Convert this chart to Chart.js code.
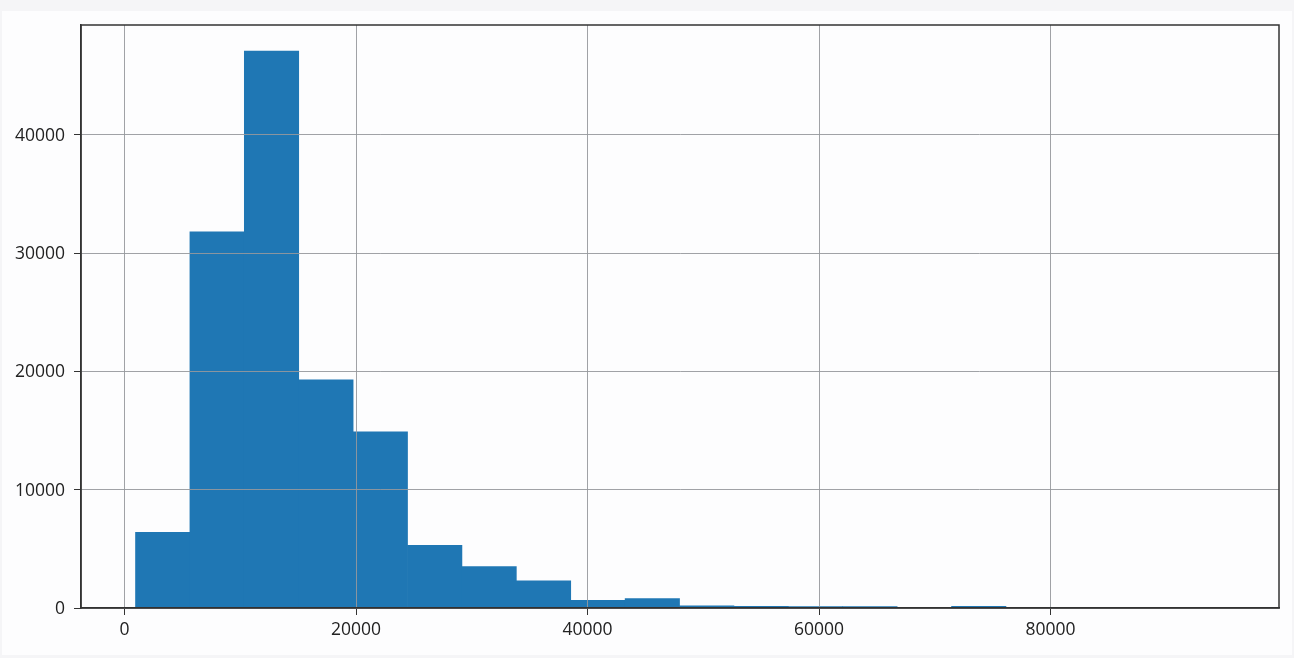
<!DOCTYPE html>
<html>
<head>
<meta charset="utf-8">
<style>
  html, body { margin: 0; padding: 0; width: 1294px; height: 658px; overflow: hidden; background: #f5f5f7; }
  #card { position: absolute; left: 2px; top: 11px; width: 1290px; height: 644px; background: #fdfdfe; }
  #myChart { position: absolute; left: 0; top: 0; }
</style>
<script src="https://cdn.jsdelivr.net/npm/chart.js@4"></script>
</head>
<body>
<div id="card"></div>
<canvas id="myChart" width="1294" height="658"></canvas>
<script>
// histogram bins (centre of each bin) and counts
const binCenters = [3300, 8000, 12700, 17400, 22100, 26800, 31500, 36200, 40900, 45600,
                    50300, 55000, 59700, 64400, 69100, 73800, 78500, 83200, 87900, 92600];
const counts = [6400, 31800, 47100, 19300, 14900, 5300, 3500, 2300, 650, 800,
                180, 150, 130, 120, 20, 150, 30, 15, 10, 10];
const xTicks = [0, 20000, 40000, 60000, 80000];
const yTicks = [0, 10000, 20000, 30000, 40000];

const ctx = document.getElementById("myChart").getContext("2d");

new Chart(ctx, {
  type: "bar",
  data: {
    datasets: [{
      data: binCenters.map((c, i) => ({ x: c, y: counts[i] })),
      backgroundColor: "#1f77b4",
      borderWidth: 0,
      barPercentage: 1,
      categoryPercentage: 1
    }]
  },
  options: {
    responsive: false,
    animation: false,
    layout: { padding: { left: 0, top: 25, right: 15, bottom: 0 } },
    plugins: { legend: { display: false }, tooltip: { enabled: false } },
    scales: {
      x: {
        type: "linear",
        offset: false,
        min: -3760,
        max: 99740,
        afterBuildTicks: (s) => { s.ticks = xTicks.map(v => ({ value: v })); },
        afterFit: (s) => { s.height = 50; },
        grid: { offset: false, color: "rgba(150,152,156,0.9)", lineWidth: 1, z: 1, tickLength: 7, tickColor: "#333" },
        border: { color: "#333", width: 1.5, z: 1 },
        ticks: { color: "#222", font: { family: "Open Sans", size: 17.5 }, padding: 5, maxRotation: 0, autoSkip: false, callback: (v) => String(v) }
      },
      y: {
        min: 0,
        max: 49300,
        afterBuildTicks: (s) => { s.ticks = yTicks.map(v => ({ value: v })); },
        afterFit: (s) => { s.width = 81; },
        grid: { color: "rgba(150,152,156,0.9)", lineWidth: 1, z: 1, tickLength: 7, tickColor: "#333" },
        border: { color: "#333", width: 1.5, z: 1 },
        ticks: { color: "#222", font: { family: "Open Sans", size: 17.5 }, padding: 9, labelOffset: 1, autoSkip: false, callback: (v) => String(v) }
      }
    }
  },
  plugins: [{
    // top and right spines of the axes box
    id: "axesBox",
    afterDraw(chart) {
      const a = chart.chartArea, c = chart.ctx;
      c.save();
      c.strokeStyle = "#333";
      c.lineWidth = 1.5;
      c.strokeRect(a.left, a.top, a.right - a.left, a.bottom - a.top);
      c.restore();
    }
  }]
});
</script>
</body>
</html>
